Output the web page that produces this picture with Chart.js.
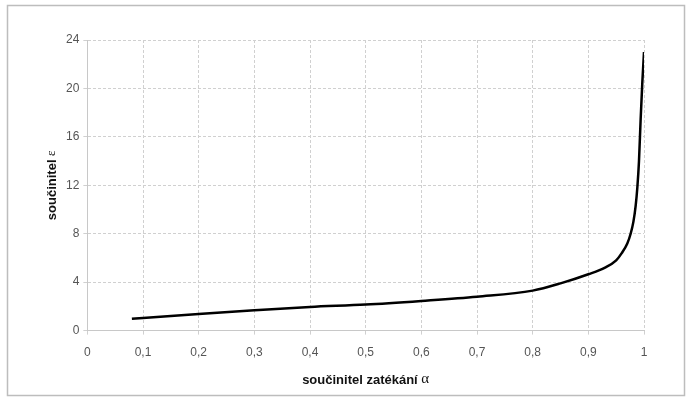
<!DOCTYPE html>
<html>
<head>
<meta charset="utf-8">
<script src="https://cdn.jsdelivr.net/npm/chart.js@4/dist/chart.umd.min.js"></script>
<style>
  html, body { margin: 0; padding: 0; background: #fff; }
  #wrap { position: relative; width: 697px; height: 399px; }
</style>
</head>
<body>
<div id="wrap"><canvas id="c" width="697" height="399"></canvas></div>
<script>
// values
const alphaValues = [0.08, 0.1, 0.2, 0.3, 0.4, 0.5, 0.6, 0.7, 0.8, 0.85, 0.9, 0.93, 0.95, 0.96, 0.97, 0.976, 0.981, 0.985, 0.988, 0.991, 0.994, 0.997, 1.0];
const epsValues   = [0.98, 1.05, 1.38, 1.68, 1.95, 2.15, 2.45, 2.8, 3.3, 3.9, 4.65, 5.2, 5.8, 6.4, 7.2, 8.0, 9.0, 10.3, 11.8, 14.0, 17.5, 20.5, 23.0];
const xTitle = ['součinitel zatékání ', 'α'];
const yTitle = ['součinitel ', 'ε'];

const points = alphaValues.map((a, i) => ({ x: a, y: epsValues[i] }));

const decimalComma = v => String(Math.round(v * 10) / 10).replace('.', ',');

const framePlugin = {
  id: 'frame',
  beforeDraw(chart) {
    const ctx = chart.ctx;
    ctx.save();
    ctx.fillStyle = '#fff';
    ctx.fillRect(0, 0, chart.width, chart.height);
    ctx.strokeStyle = '#bdbdbd';
    ctx.lineWidth = 1.5;
    ctx.strokeRect(7.5, 5.5, 677, 390);
    ctx.restore();
  },
  afterDraw(chart) {
    const ctx = chart.ctx;
    const area = chart.chartArea;
    ctx.save();
    ctx.fillStyle = '#111';
    ctx.textBaseline = 'middle';
    // x axis title
    ctx.font = 'bold 13px "Liberation Sans", Arial, sans-serif';
    const w1 = ctx.measureText(xTitle[0]).width;
    ctx.font = '15px "Liberation Serif", "Times New Roman", serif';
    const w2 = ctx.measureText(xTitle[1]).width;
    let x0 = (area.left + area.right) / 2 - (w1 + w2) / 2;
    ctx.font = 'bold 13px "Liberation Sans", Arial, sans-serif';
    ctx.fillText(xTitle[0], x0, 380);
    ctx.font = '15px "Liberation Serif", "Times New Roman", serif';
    ctx.fillText(xTitle[1], x0 + w1, 379);
    // y axis title (rotated)
    ctx.translate(52, (area.top + area.bottom) / 2);
    ctx.rotate(-Math.PI / 2);
    ctx.font = 'bold 13px "Liberation Sans", Arial, sans-serif';
    const v1 = ctx.measureText(yTitle[0]).width;
    ctx.font = '13px "Liberation Serif", "Times New Roman", serif';
    const v2 = ctx.measureText(yTitle[1]).width;
    const y0 = -(v1 + v2) / 2;
    ctx.font = 'bold 13px "Liberation Sans", Arial, sans-serif';
    ctx.fillText(yTitle[0], y0, 0);
    ctx.font = '13px "Liberation Serif", "Times New Roman", serif';
    ctx.fillText(yTitle[1], y0 + v1, 0);
    ctx.restore();
  }
};

new Chart(document.getElementById('c'), {
  type: 'scatter',
  data: {
    datasets: [{
      data: points,
      showLine: true,
      borderColor: '#000',
      borderWidth: 2.5,
      pointRadius: 0,
      cubicInterpolationMode: 'monotone',
      fill: false
    }]
  },
  options: {
    responsive: false,
    animation: false,
    layout: { padding: { left: 62, right: 53, top: 40, bottom: 28 } },
    plugins: { legend: { display: false }, tooltip: { enabled: false } },
    scales: {
      x: {
        type: 'linear',
        min: 0, max: 1,
        ticks: {
          stepSize: 0.1,
          callback: v => decimalComma(v),
          color: '#555',
          font: { family: '"Liberation Sans", Arial, sans-serif', size: 12 },
          padding: 11,
          maxRotation: 0
        },
        grid: { color: '#d0d0d0', tickLength: 4, lineWidth: 1 },
        border: { color: '#c8c8c8', dash: [3, 2] }
      },
      y: {
        min: 0, max: 24,
        ticks: {
          stepSize: 4,
          color: '#555',
          font: { family: '"Liberation Sans", Arial, sans-serif', size: 12 },
          padding: 4
        },
        grid: { color: '#d0d0d0', tickLength: 4, lineWidth: 1 },
        border: { color: '#c8c8c8', dash: [3, 2] }
      }
    }
  },
  plugins: [framePlugin]
});
</script>
</body>
</html>
